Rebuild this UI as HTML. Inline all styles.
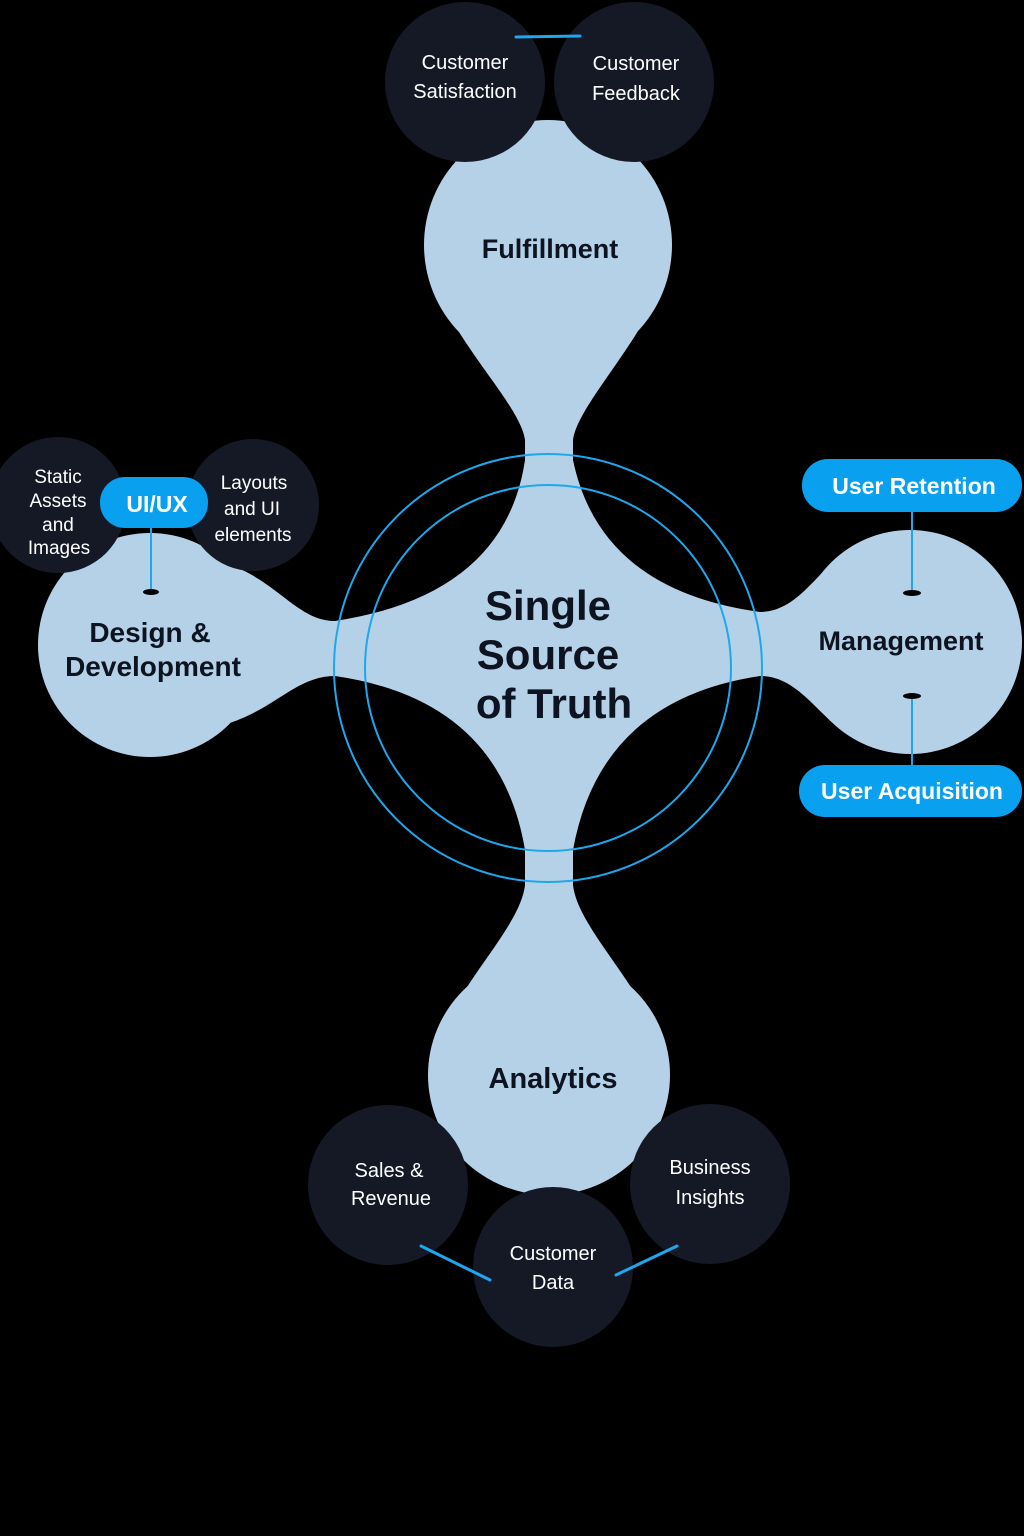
<!DOCTYPE html>
<html><head><meta charset="utf-8"><style>
html,body{margin:0;padding:0;background:#000;}
svg{display:block}
text{font-family:"Liberation Sans",sans-serif;text-anchor:middle;}
</style></head><body>
<svg width="1024" height="1536" viewBox="0 0 1024 1536">
<rect width="1024" height="1536" fill="#000"/>
<g fill="#b5d1e7">
<ellipse cx="548" cy="245" rx="124" ry="125"/>
<ellipse cx="549" cy="1075" rx="121" ry="120"/>
<circle cx="150" cy="645" r="112"/>
<circle cx="910" cy="642" r="112"/>
<path d="M525 440 L525 460 Q505 595 335 621 C295 621 275 575 215 560 L200 730 C270 720 290 676 335 676 Q500 700 525 850 L525 885 C520 930 450 990 438 1050 L660 1050 C648 990 578 930 573 885 L573 850 Q600 700 760 676 C800 676 820 720 850 735 L850 550 C820 565 800 612 760 612 Q600 590 573 460 L573 440 C578 400 665 320 670 250 L427 250 C430 320 520 400 525 440 Z"/>
</g>
<circle cx="548" cy="668" r="214" fill="none" stroke="#1ea7ee" stroke-width="2"/>
<circle cx="548" cy="668" r="183" fill="none" stroke="#1ea7ee" stroke-width="2"/>
<g fill="#141925">
<circle cx="465" cy="82" r="80"/>
<circle cx="634" cy="82" r="80"/>
<circle cx="388" cy="1185" r="80"/>
<circle cx="710" cy="1184" r="80"/>
<circle cx="553" cy="1267" r="80"/>
<circle cx="58" cy="505" r="68"/>
<circle cx="253" cy="505" r="66"/>
</g>
<g stroke="#1ea7ee" stroke-width="3" stroke-linecap="round">
<line x1="516" y1="37" x2="580" y2="36"/>
<line x1="421" y1="1246" x2="490" y2="1280"/>
<line x1="616" y1="1275" x2="677" y2="1246"/>
<line x1="151" y1="528" x2="151" y2="590" stroke-width="2"/>
<line x1="912" y1="512" x2="912" y2="592" stroke-width="2"/>
<line x1="912" y1="696" x2="912" y2="765" stroke-width="2"/>
</g>
<g fill="#000"><ellipse cx="151" cy="592" rx="8" ry="3"/><ellipse cx="912" cy="593" rx="9" ry="3"/><ellipse cx="912" cy="696" rx="9" ry="3"/></g>
<g fill="#0aa0f0">
<rect x="100" y="477" width="108" height="51" rx="25"/>
<rect x="802" y="459" width="220" height="53" rx="26"/>
<rect x="799" y="765" width="223" height="52" rx="26"/>
</g>
<g fill="#fff" font-size="20">
<text x="465" y="69">Customer</text><text x="465" y="98">Satisfaction</text>
<text x="636" y="70">Customer</text><text x="636" y="100">Feedback</text>
<text x="389" y="1177">Sales &amp;</text><text x="391" y="1205">Revenue</text>
<text x="710" y="1174">Business</text><text x="710" y="1204">Insights</text>
<text x="553" y="1260">Customer</text><text x="553" y="1289">Data</text>
<text x="58" y="483" font-size="19">Static</text><text x="58" y="507" font-size="19">Assets</text><text x="58" y="531" font-size="19">and</text><text x="59" y="554" font-size="19">Images</text>
<text x="254" y="489" font-size="19">Layouts</text><text x="252" y="515" font-size="19">and UI</text><text x="253" y="541" font-size="19">elements</text>
<text x="157" y="512" font-size="23" font-weight="bold">UI/UX</text>
<text x="914" y="494" font-size="23" font-weight="bold">User Retention</text>
<text x="912" y="799" font-size="23" font-weight="bold">User Acquisition</text>
</g>
<g fill="#0d1320" font-weight="bold">
<text x="550" y="258" font-size="27">Fulfillment</text>
<text x="553" y="1088" font-size="29">Analytics</text>
<text x="150" y="642" font-size="28">Design &amp;</text><text x="153" y="676" font-size="28">Development</text>
<text x="901" y="650" font-size="27">Management</text>
<text x="548" y="620" font-size="42">Single</text>
<text x="548" y="669" font-size="42">Source</text>
<text x="554" y="718" font-size="42">of Truth</text>
</g>
</svg>
</body></html>
